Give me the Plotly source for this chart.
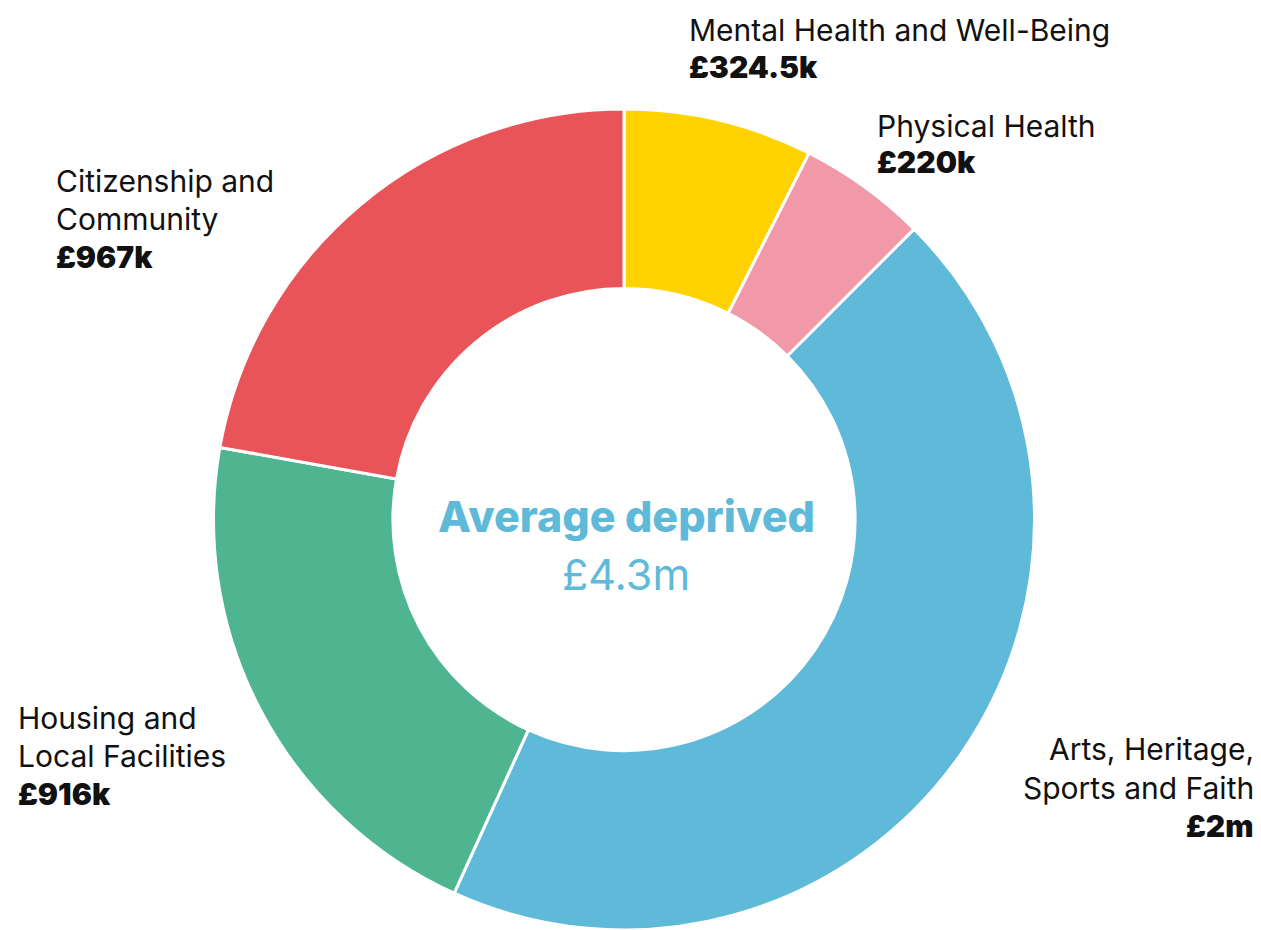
import plotly.graph_objects as go

categories = ["Mental Health and Well-Being", "Physical Health", "Arts, Heritage, Sports and Faith",
              "Housing and Local Facilities", "Citizenship and Community"]
label_lines = [["Mental Health and Well-Being"], ["Physical Health"], ["Arts, Heritage,", "Sports and Faith"],
               ["Housing and", "Local Facilities"], ["Citizenship and", "Community"]]
values_k = [324.5, 220, 1930, 916, 967]
value_labels = ["£324.5k", "£220k", "£2m", "£916k", "£967k"]
colors = ["#FFD200", "#F198A9", "#5FB9D8", "#4FB591", "#E85457"]
center_title = "Average deprived"
center_value = "£4.3m"

OFF = 8  # page body margin
W, H = 1261 - OFF, 930 - OFF
CX, CY, R = 624 - OFF, 520 - OFF, 411
MT = CY - R
MB = H - (CY + R)
if MB < 0:
    MB = 0
PH = H - MT - MB

def px(x):
    return (x - OFF) / W

def py(y):
    return (H - MB - (y - OFF)) / PH

FONT = "Inter"

fig = go.Figure(go.Pie(
    labels=categories, values=values_k, sort=False, direction="clockwise", rotation=0,
    hole=0.563, marker=dict(colors=colors, line=dict(color="white", width=3)),
    textinfo="none", hoverinfo="label+value", showlegend=False,
    domain=dict(x=[(CX - PH / 2) / W, (CX + PH / 2) / W], y=[0, 1]),
))

ann = []
def line(x, y, text, anchor, bold=False):
    ann.append(dict(x=px(x), y=py(y), xref="paper", yref="paper", text=text, showarrow=False,
                    xanchor=anchor, yanchor="middle",
                    font=dict(family=FONT, size=30, color="#111111", weight=900 if bold else 400)))

def label(x, ys, i, anchor="left"):
    lines = label_lines[i]
    for t, y in zip(lines, ys):
        line(x, y, t, anchor)
    line(x, ys[len(lines)], value_labels[i], anchor, bold=True)

label(687, [30, 67], 0)
label(875, [126, 162], 1)
label(1256, [749, 788, 826], 2, anchor="right")
label(16, [718, 756, 794], 3)
label(54, [181, 219, 257], 4)

ann.append(dict(x=px(626), y=py(516), xref="paper", yref="paper", text=center_title,
                showarrow=False, xanchor="center", yanchor="middle",
                font=dict(family=FONT, size=43, color="#5FB9D8", weight=800)))
ann.append(dict(x=px(626), y=py(574), xref="paper", yref="paper", text=center_value,
                showarrow=False, xanchor="center", yanchor="middle",
                font=dict(family=FONT, size=43, color="#5FB9D8")))

fig.update_layout(width=W, height=H, margin=dict(l=0, r=0, t=MT, b=MB),
                  paper_bgcolor="white", plot_bgcolor="white", annotations=ann)
fig.write_html("out.html")
